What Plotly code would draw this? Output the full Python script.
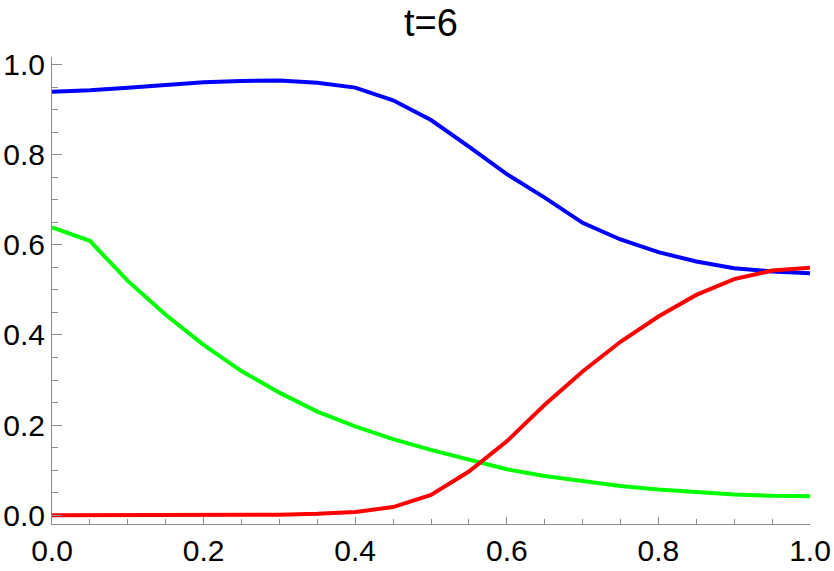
import plotly.graph_objects as go

x_vals = [0.0, 0.05, 0.1, 0.15, 0.2, 0.25, 0.3, 0.35, 0.4, 0.45, 0.5,
          0.55, 0.6, 0.65, 0.7, 0.75, 0.8, 0.85, 0.9, 0.95, 1.0]

blue_vals = [0.940, 0.943, 0.949, 0.955, 0.961, 0.964, 0.965, 0.960, 0.949, 0.921, 0.877,
             0.818, 0.757, 0.705, 0.649, 0.612, 0.584, 0.563, 0.548, 0.541, 0.537]

green_vals = [0.639, 0.609, 0.520, 0.445, 0.378, 0.320, 0.272, 0.230, 0.197, 0.169, 0.145,
              0.123, 0.102, 0.087, 0.075, 0.065, 0.057, 0.051, 0.046, 0.043, 0.042]

red_vals = [0.0, 0.0, 0.0, 0.0, 0.0, 0.0, 0.001, 0.003, 0.007, 0.018, 0.045,
            0.097, 0.164, 0.245, 0.319, 0.385, 0.441, 0.489, 0.524, 0.543, 0.549]

x_tick_vals = [0.0, 0.2, 0.4, 0.6, 0.8, 1.0]
x_tick_text = ["0.0", "0.2", "0.4", "0.6", "0.8", "1.0"]
y_tick_vals = [0.0, 0.2, 0.4, 0.6, 0.8, 1.0]
y_tick_text = ["0.0", "0.2", "0.4", "0.6", "0.8", "1.0"]

title_text = "t=6"

fig = go.Figure()
for vals, color in [(blue_vals, "#0000FF"), (green_vals, "#00FF00"), (red_vals, "#FF0000")]:
    fig.add_trace(go.Scatter(x=x_vals, y=vals, mode="lines",
                             line=dict(color=color, width=4), showlegend=False,
                             hoverinfo="skip"))

font_family = "Liberation Sans, Arial, sans-serif"
axis_gray = "#8c8c8c"

fig.update_layout(
    width=834, height=571,
    margin=dict(l=52, r=24, t=57, b=47, autoexpand=False),
    paper_bgcolor="white", plot_bgcolor="white",
    title=dict(text=title_text, x=431/834, xanchor="center",
               y=1 - 23/571, yanchor="middle",
               font=dict(family=font_family, size=38, color="black")),
    font=dict(family=font_family, color="black"),
)

fig.update_xaxes(
    range=[0, 1], showgrid=False, zeroline=False, automargin=False,
    showline=True, linecolor=axis_gray, linewidth=1,
    tickmode="array", tickvals=x_tick_vals, ticktext=x_tick_text,
    ticks="inside", ticklen=7, tickcolor=axis_gray, tickwidth=1,
    tickfont=dict(family=font_family, size=30, color="black"),
    ticklabelstandoff=0,
    minor=dict(dtick=0.05, tick0=0, ticks="inside", ticklen=5,
               tickcolor=axis_gray, tickwidth=1, showgrid=False),
)
fig.update_yaxes(
    range=[-0.0195, 1.017], showgrid=False, zeroline=False, automargin=False,
    showline=True, linecolor=axis_gray, linewidth=1,
    tickmode="array", tickvals=y_tick_vals, ticktext=y_tick_text,
    ticks="inside", ticklen=10, tickcolor=axis_gray, tickwidth=1,
    tickfont=dict(family=font_family, size=30, color="black"),
    ticklabelstandoff=0,
    minor=dict(dtick=0.05, tick0=0, ticks="inside", ticklen=6,
               tickcolor=axis_gray, tickwidth=1, showgrid=False),
)

fig.write_html("out.html")
